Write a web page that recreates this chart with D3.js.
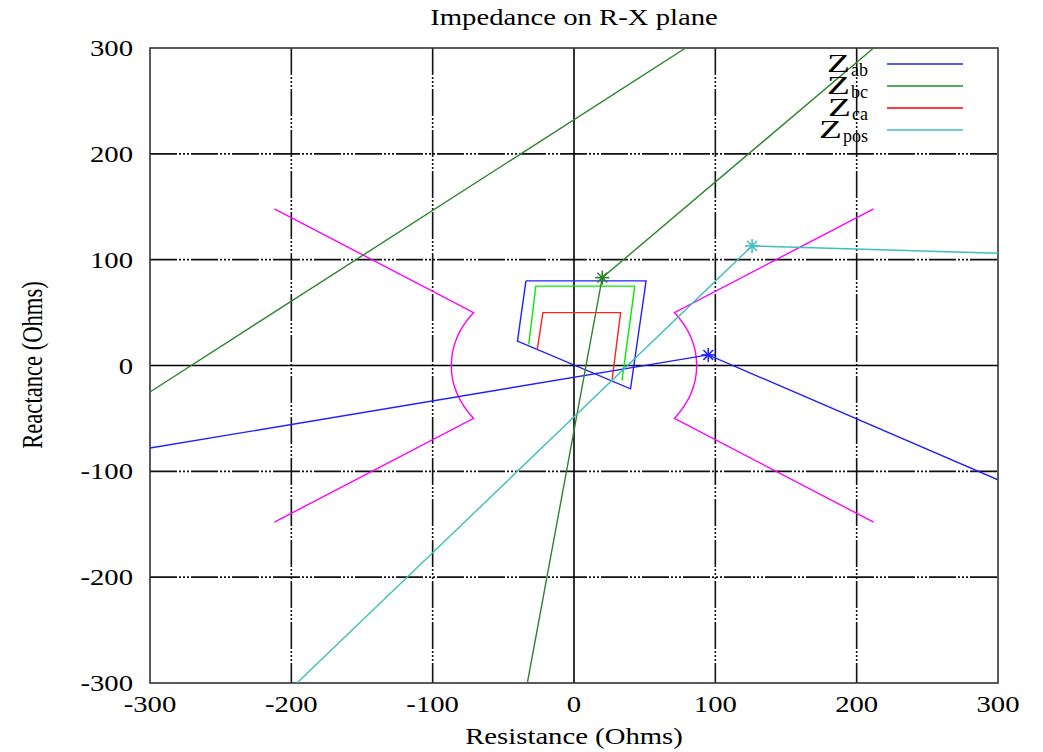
<!DOCTYPE html>
<html>
  <head>
    <meta charset="utf-8">
    <title>Impedance on R-X plane</title>
    <script src="https://cdnjs.cloudflare.com/ajax/libs/d3/7.8.5/d3.min.js"></script>
    <style>
      body { margin: 0; background: #fff; }
      text { font-family: "Liberation Serif", "DejaVu Serif", serif; fill: #000; }
    </style>
  </head>
  <body>

    <script>
      // ticks
      var xTicks = [-300, -200, -100, 0, 100, 200, 300];
      var yTicks = [-300, -200, -100, 0, 100, 200, 300];

      // relay zones (R, X in ohms)
      var zoneBlue  = [[-34, 80], [51, 80], [40, -22], [-40, 23], [-34, 80]];
      var zoneGreen = [[-32, 20], [-27, 75], [43, 75], [34, -14]];
      var zoneRed   = [[-26, 15], [-22, 50], [33, 50], [27, -13]];

      // load blinder (magenta): outer ends, inner ends and arc radius
      var blinderLeft  = [[-212, 148], [-71, 50], [-71, -50], [-212, -148]];
      var blinderRight = [[212, 148], [71, 50], [71, -50], [212, -148]];
      var blinderRadius = 87;

      // impedance trajectories
      var zab  = [[-300, -78], [95, 10], [300, -108]];
      var zbc1 = [[-300, -25], [79, 300]];
      var zbc2 = [[-33, -300], [20, 83], [212, 300]];
      var zpos = [[-196, -300], [126, 113], [300, 106]];

      // final points (stars)
      var stars = [
        {p: [95, 10], c: "#2020ff"},
        {p: [20, 83], c: "#2a7f2a"},
        {p: [126, 113], c: "#3cbfbf"}
      ];

      var legend = [
        {main: "Z", sub: "ab",  c: "#2020ff"},
        {main: "Z", sub: "bc",  c: "#1a8f1a"},
        {main: "Z", sub: "ca",  c: "#ff0000"},
        {main: "Z", sub: "pos", c: "#3cbfbf"}
      ];

      var W = 1043, H = 752;
      var pL = 150, pR = 998, pT = 48, pB = 683;
      var sx = 1.27; // horizontal stretch of the text

      var svg = d3.select("body").append("svg")
        .attr("width", W)
        .attr("height", H);

      var x = d3.scaleLinear().domain([-300, 300]).range([pL, pR]);
      var y = d3.scaleLinear().domain([-300, 300]).range([pB, pT]);

      svg.append("clipPath").attr("id", "clip")
        .append("rect")
        .attr("x", pL).attr("y", pT)
        .attr("width", pR - pL).attr("height", pB - pT);

      // grid
      var grid = svg.append("g");
      grid.selectAll("line.gx").data(xTicks.filter(function (d) { return d !== 0 && Math.abs(d) < 300; }))
        .enter().append("line")
        .attr("x1", function (d) { return x(d); }).attr("x2", function (d) { return x(d); })
        .attr("y1", pT).attr("y2", pB)
        .attr("stroke", "#111").attr("stroke-width", 1.6)
        .attr("stroke-dasharray", "27,2,2,2,2,2,2,2");
      grid.selectAll("line.gy").data(yTicks.filter(function (d) { return d !== 0 && Math.abs(d) < 300; }))
        .enter().append("line")
        .attr("y1", function (d) { return y(d); }).attr("y2", function (d) { return y(d); })
        .attr("x1", pL).attr("x2", pR)
        .attr("stroke", "#111").attr("stroke-width", 1.6)
        .attr("stroke-dasharray", "27,2,2,2,2,2,2,2");

      // zero axes
      grid.append("line")
        .attr("x1", x(0)).attr("x2", x(0)).attr("y1", pT).attr("y2", pB)
        .attr("stroke", "#000").attr("stroke-width", 1.6);
      grid.append("line")
        .attr("y1", y(0)).attr("y2", y(0)).attr("x1", pL).attr("x2", pR)
        .attr("stroke", "#000").attr("stroke-width", 1.6);

      // frame
      svg.append("rect")
        .attr("x", pL).attr("y", pT)
        .attr("width", pR - pL).attr("height", pB - pT)
        .attr("fill", "none").attr("stroke", "#333").attr("stroke-width", 1.6);

      // tick labels
      xTicks.forEach(function (d) {
        svg.append("text")
          .attr("transform", "translate(" + x(d) + ",712) scale(" + sx + ",1)")
          .attr("text-anchor", "middle")
          .style("font-size", "22.6px")
          .text(d);
      });
      yTicks.forEach(function (d) {
        svg.append("text")
          .attr("transform", "translate(133," + (y(d) + 8) + ") scale(" + sx + ",1)")
          .attr("text-anchor", "end")
          .style("font-size", "22.6px")
          .text(d);
      });

      // titles
      svg.append("text")
        .attr("transform", "translate(574,25) scale(" + sx + ",1)")
        .attr("text-anchor", "middle")
        .style("font-size", "22.6px")
        .text("Impedance on R-X plane");
      svg.append("text")
        .attr("transform", "translate(574,744) scale(" + sx + ",1)")
        .attr("text-anchor", "middle")
        .style("font-size", "22.6px")
        .text("Resistance (Ohms)");
      svg.append("text")
        .attr("transform", "translate(42,365) scale(" + sx + ",1) rotate(-90)")
        .attr("text-anchor", "middle")
        .style("font-size", "22.6px")
        .text("Reactance (Ohms)");

      var plot = svg.append("g").attr("clip-path", "url(#clip)");
      var line = d3.line().x(function (d) { return x(d[0]); }).y(function (d) { return y(d[1]); });

      function draw(data, color, w) {
        plot.append("path")
          .attr("d", line(data))
          .attr("fill", "none")
          .attr("stroke", color)
          .attr("stroke-width", w || 1.4);
      }

      // blinder with arcs
      var rx = x(blinderRadius) - x(0), ry = y(0) - y(blinderRadius);
      function blinder(pts, sweep) {
        var d = "M" + x(pts[0][0]) + "," + y(pts[0][1]) +
          "L" + x(pts[1][0]) + "," + y(pts[1][1]) +
          "A" + rx + "," + ry + " 0 0 " + sweep + " " + x(pts[2][0]) + "," + y(pts[2][1]) +
          "L" + x(pts[3][0]) + "," + y(pts[3][1]);
        plot.append("path").attr("d", d)
          .attr("fill", "none").attr("stroke", "#ff00ff").attr("stroke-width", 1.4);
      }
      blinder(blinderLeft, 0);
      blinder(blinderRight, 1);

      draw(zoneBlue, "#2020ff");
      draw(zoneGreen, "#00ee00");
      draw(zoneRed, "#ff2020");

      draw(zab, "#2020ff");
      draw(zbc1, "#2f852f");
      draw(zbc2, "#2f852f");
      draw(zpos, "#3cbfbf");

      // stars
      stars.forEach(function (s) {
        var cx = x(s.p[0]), cy = y(s.p[1]), r = 7;
        var g = plot.append("g").attr("stroke", s.c).attr("stroke-width", 1.6);
        g.append("line").attr("x1", cx - r).attr("x2", cx + r).attr("y1", cy).attr("y2", cy);
        g.append("line").attr("x1", cx).attr("x2", cx).attr("y1", cy - r).attr("y2", cy + r);
        g.append("line").attr("x1", cx - r * 0.7).attr("x2", cx + r * 0.7).attr("y1", cy - r * 0.7).attr("y2", cy + r * 0.7);
        g.append("line").attr("x1", cx - r * 0.7).attr("x2", cx + r * 0.7).attr("y1", cy + r * 0.7).attr("y2", cy - r * 0.7);
      });

      // legend
      legend.forEach(function (d, i) {
        var ly = 64 + i * 22;
        var sub = svg.append("text")
          .attr("x", 868).attr("y", ly + 12)
          .attr("text-anchor", "end")
          .style("font-size", "18px")
          .text(d.sub);
        var wsub = sub.node().getComputedTextLength();
        svg.append("text")
          .attr("transform", "translate(" + (867 - wsub) + "," + (ly + 7.5) + ") scale(1.5,1)")
          .attr("text-anchor", "end")
          .style("font-size", "25px")
          .text(d.main);
        svg.append("line")
          .attr("x1", 887).attr("x2", 963).attr("y1", ly).attr("y2", ly)
          .attr("stroke", d.c).attr("stroke-width", 1.4);
      });
    </script>

  </body>
</html>
